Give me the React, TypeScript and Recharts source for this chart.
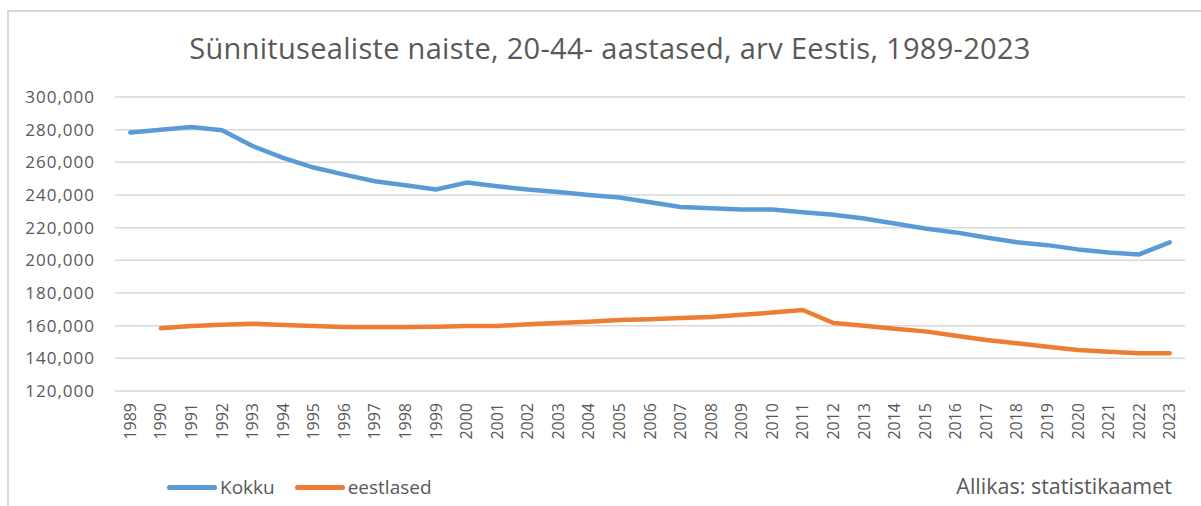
import React from 'react';
import { LineChart, Line, XAxis, YAxis, CartesianGrid } from 'recharts';

// Sünnitusealised naised (20-44), Eesti, 1989-2023
const years = [
  '1989', '1990', '1991', '1992', '1993', '1994', '1995', '1996', '1997', '1998',
  '1999', '2000', '2001', '2002', '2003', '2004', '2005', '2006', '2007', '2008',
  '2009', '2010', '2011', '2012', '2013', '2014', '2015', '2016', '2017', '2018',
  '2019', '2020', '2021', '2022', '2023',
];

const kokku = [
  278200, 280000, 281600, 279600, 270000, 262700, 256800, 252500, 248400, 246000,
  243400, 247600, 245400, 243300, 241900, 240000, 238500, 235600, 232700, 231900,
  231100, 231100, 229500, 227900, 225600, 222600, 219500, 217100, 214000, 211100,
  209300, 206700, 204800, 203600, 211000,
];

const eestlased: (number | null)[] = [
  null, 158400, 159800, 160600, 161200, 160400, 159800, 159200, 159200, 159200,
  159400, 159800, 159800, 160800, 161600, 162400, 163400, 164000, 164700, 165300,
  166700, 168000, 169600, 161600, 160000, 158100, 156500, 153800, 151200, 149200,
  147100, 145100, 144000, 143100, 143100,
];

const yTicks = [120000, 140000, 160000, 180000, 200000, 220000, 240000, 260000, 280000, 300000];

const chartData = years.map((year, i) => ({
  year,
  Kokku: kokku[i],
  eestlased: eestlased[i],
}));

const BLUE = '#5B9BD5';
const ORANGE = '#ED7D31';
const TEXT = '#595959';

const series = [
  { key: 'Kokku', color: BLUE },
  { key: 'eestlased', color: ORANGE },
];

function YearTick({ x, y, payload }: any) {
  return (
    <g transform={`translate(${x},${y + 12})`}>
      <text
        transform="rotate(-90)"
        textAnchor="end"
        dy="0.35em"
        fill={TEXT}
        fontSize={16}
        fontFamily="'Open Sans', sans-serif"
      >
        {payload.value}
      </text>
    </g>
  );
}

export default function App() {
  return (
    <div style={{ position: 'absolute', left: 0, top: 0, width: 1201, height: 506, background: '#fff', overflow: 'hidden' }}>
      <div style={{ position: 'absolute', left: 7, top: 10, width: 1200, height: 500, borderLeft: '2px solid #d9d9d9', borderTop: '2px solid #d9d9d9' }} />
      <div
        style={{
          position: 'absolute',
          left: 0,
          width: 1220,
          top: 28,
          textAlign: 'center',
          fontFamily: "'Open Sans', sans-serif",
          fontSize: 29,
          letterSpacing: 0.3,
          color: TEXT,
        }}
      >
        Sünnitusealiste naiste, 20-44- aastased, arv Eestis, 1989-2023
      </div>
      <div style={{ position: 'absolute', left: 0, top: 0 }}>
        <LineChart width={1201} height={506} data={chartData} margin={{ top: 97, right: 16, bottom: 55, left: 0 }}>
          <CartesianGrid vertical={false} stroke="#d9d9d9" strokeWidth={1.5} />
          <XAxis
            dataKey="year"
            interval={0}
            axisLine={false}
            tickLine={false}
            tickSize={0}
            tickMargin={0}
            height={60}
            padding={{ left: 15.3, right: 15.3 }}
            tick={<YearTick />}
          />
          <YAxis
            domain={[120000, 300000]}
            ticks={yTicks}
            interval={0}
            width={115}
            axisLine={false}
            tickLine={false}
            tickSize={0}
            tickMargin={20}
            tickFormatter={(v: number) => v.toLocaleString('en-US')}
            tick={{ fill: TEXT, fontSize: 17, fontFamily: "'Open Sans', sans-serif", letterSpacing: 1 }}
          />
          {series.map((s) => (
            <Line
              key={s.key}
              type="linear"
              dataKey={s.key}
              stroke={s.color}
              strokeWidth={4.5}
              strokeLinecap="round"
              strokeLinejoin="round"
              dot={false}
              isAnimationActive={false}
            />
          ))}
        </LineChart>
      </div>
      <div
        style={{
          position: 'absolute',
          left: 167,
          top: 474,
          display: 'flex',
          alignItems: 'center',
          fontFamily: "'Open Sans', sans-serif",
          fontSize: 19,
          color: TEXT,
        }}
      >
        {series.map((s) => (
          <div key={s.key} style={{ display: 'flex', alignItems: 'center', marginRight: 20 }}>
            <span style={{ display: 'inline-block', width: 50, height: 5, borderRadius: 3, background: s.color, marginRight: 3 }} />
            <span>{s.key}</span>
          </div>
        ))}
      </div>
      <div
        style={{
          position: 'absolute',
          right: 29,
          top: 471,
          fontFamily: "'Open Sans', sans-serif",
          fontSize: 21.5,
          color: TEXT,
        }}
      >
        Allikas: statistikaamet
      </div>
    </div>
  );
}
